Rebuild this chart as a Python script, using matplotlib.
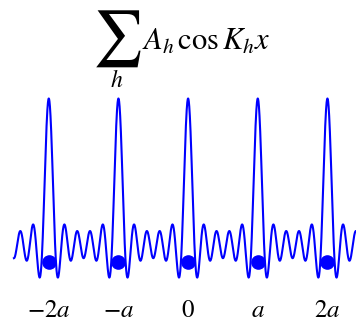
import numpy as np
import matplotlib
matplotlib.use("Agg")
import matplotlib.pyplot as plt

plt.rcParams["mathtext.fontset"] = "stix"

# ── Veri ────────────────────────────────────────────────────────────────────
harmonics   = [-5, -4, -3, -2, -1, 0, 1, 2, 3, 4, 5]   # h
amplitudes  = [1, 1, 1, 1, 1, 1, 1, 1, 1, 1, 1]         # A_h
lattice_x   = [-2, -1, 0, 1, 2]                         # kafes noktalari (a biriminde)
lattice_y   = [-1.25, -1.25, -1.25, -1.25, -1.25]
tick_labels = [r"$-2a$", r"$-a$", r"$0$", r"$a$", r"$2a$"]
x_span      = (-2.5, 2.5)

# ── Egri: sum_h A_h cos(K_h x), K_h = 2*pi*h/a ─────────────────────────────
x = np.linspace(x_span[0], x_span[1], 3001)
y = np.zeros_like(x)
for h, amp in zip(harmonics, amplitudes):
    y += amp * np.cos(2 * np.pi * h * x)

fig = plt.figure(figsize=(3.56, 3.22), dpi=100)
ax = fig.add_axes([0, 32 / 322, 1, 200 / 322])
ax.plot(x, y, color="#0000ff", lw=1.5)
ax.plot(lattice_x, lattice_y, "o", color="#0000ff", ms=9.5)

ax.set_xlim(-2.70, 2.41)
ax.set_ylim(-3.39, 11.64)
ax.set_xticks(lattice_x)
ax.set_xticklabels(tick_labels, fontsize=18)
ax.tick_params(axis="x", length=0, pad=6)
ax.set_yticks([])
for s in ax.spines.values():
    s.set_visible(False)
ax.patch.set_visible(False)

# ── Baslik: buyuk toplam isareti + h alt indisi + ifade ─────────────────────
fig.text(117 / 356, 1 - 39 / 322, r"$\sum$", ha="center", va="center", fontsize=40)
fig.text(117 / 356, 1 - 80 / 322, r"$h$", ha="center", va="center", fontsize=17)
fig.text(142 / 356, 1 - 50 / 322, r"$A_h\,\cos K_h x$",
         ha="left", va="baseline", fontsize=22)

plt.savefig("out.png", dpi=100)
plt.close()
